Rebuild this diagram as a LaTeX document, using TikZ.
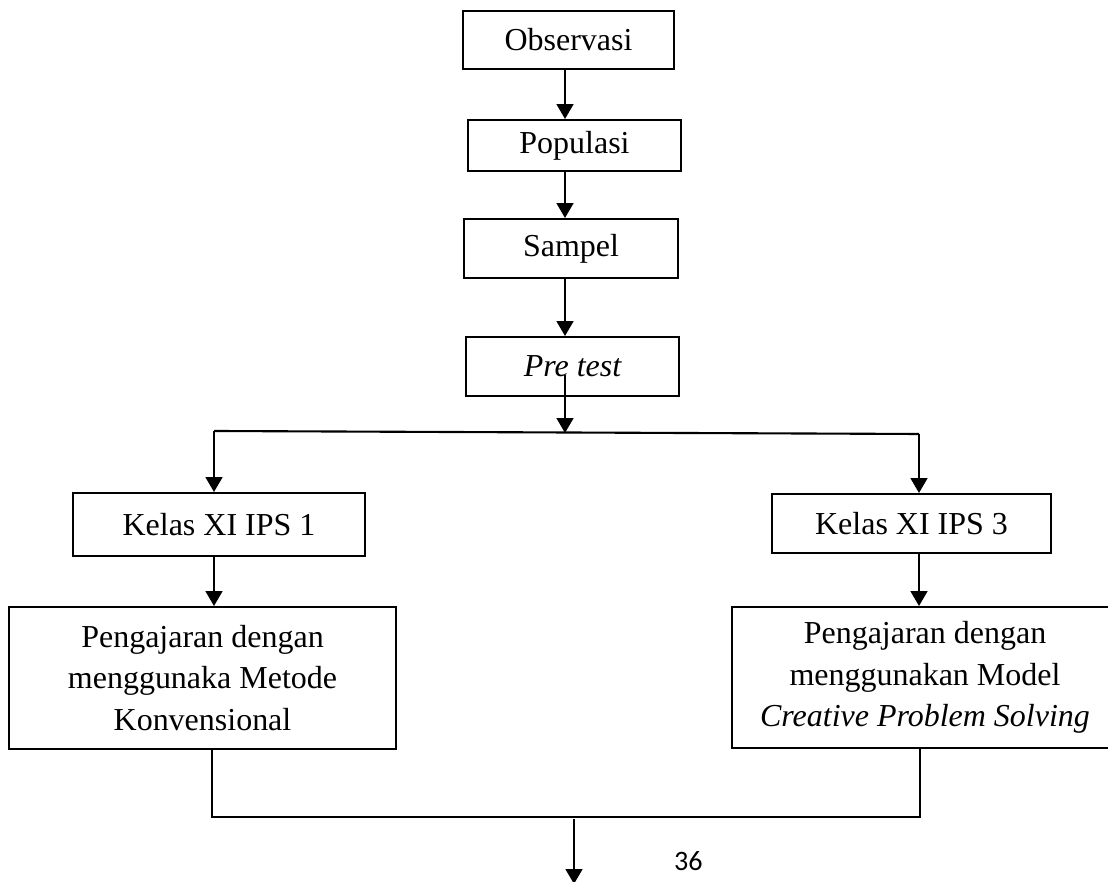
\documentclass[tikz,border=0pt]{standalone}
\usepackage{fontspec}
\setmainfont{Liberation Serif}
\newfontfamily\pagefont{Carlito}
\usetikzlibrary{arrows.meta}

\begin{document}
\begin{tikzpicture}[>={Triangle[length=8.5pt,width=9.5pt]},
        kotak/.style={draw,line width=1.1pt,fill=white,inner sep=0pt,align=center,
            font=\fontsize{18.2}{23.6}\selectfont},
        garis/.style={line width=1.4pt}]
        \useasboundingbox (0,0) rectangle (22.16,17.64);
        % kotak alur
        \node[kotak,minimum width=4.22cm,minimum height=1.16cm](obs) at (11.37,16.84){Observasi};
        \node[kotak,minimum width=4.26cm,minimum height=1.02cm](pop) at (11.49,14.73){Populasi};
        \node[kotak,minimum width=4.28cm,minimum height=1.18cm](sam) at (11.42,12.67){Sampel};
        \node[kotak,minimum width=4.26cm,minimum height=1.18cm](pre) at (11.45,10.31){\itshape Pre test};
        \node[kotak,minimum width=5.84cm,minimum height=1.26cm](ka) at (4.38,7.15){Kelas XI IPS 1};
        \node[kotak,minimum width=5.58cm,minimum height=1.18cm](kb) at (18.23,7.17){Kelas XI IPS 3};
        \node[kotak,minimum width=7.74cm,minimum height=2.84cm](ma) at (4.05,4.08){Pengajaran dengan\\menggunaka Metode\\Konvensional};
        \node[kotak,minimum width=7.72cm,minimum height=2.82cm](mb) at (18.50,4.09){Pengajaran dengan\\menggunakan Model\\\itshape Creative Problem Solving};
        % titik bantu
        \coordinate (axis) at (11.30,0);
        \coordinate (preout) at (11.30,10.14);
        \coordinate (split) at (11.30,8.98);
        \coordinate (bl) at (4.28,9.02);
        \coordinate (br) at (18.38,8.96);
        \coordinate (jl) at (4.24,1.30);
        \coordinate (jr) at (18.40,1.30);
        \coordinate (jm) at (11.48,1.26);
        \coordinate (akhir) at (11.48,-0.04);
        % panah
        \draw[garis,->](obs.south -| axis)--(pop.north -| axis);
        \draw[garis,->](pop.south -| axis)--(sam.north -| axis);
        \draw[garis,->](sam.south -| axis)--(pre.north -| axis);
        \draw[garis,->](preout)--(split);
        \draw[line width=1.2pt](bl)--(br);
        \draw[garis,->](bl)--(bl |- ka.north);
        \draw[garis,->](br)--(br |- kb.north);
        \draw[garis,->](bl |- ka.south)--(bl |- ma.north);
        \draw[garis,->](br |- kb.south)--(br |- mb.north);
        \draw[garis](jl |- ma.south)--(jl)--(jr)--(jr |- mb.south);
        \draw[garis,->](jm)--(akhir);
        \node[font=\pagefont\fontsize{16}{19}\selectfont,anchor=base west,inner sep=1pt](hal) at (13.44,0.22){36};
    \end{tikzpicture}
\end{document}
